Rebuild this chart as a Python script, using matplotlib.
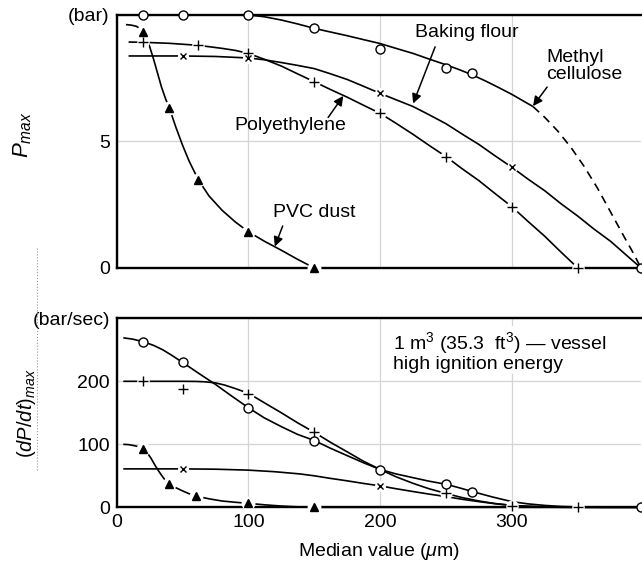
import matplotlib
matplotlib.use('Agg')
import matplotlib.pyplot as plt
from matplotlib.lines import Line2D

plt.rcParams['font.family'] = ['Liberation Sans', 'DejaVu Sans']
plt.rcParams['mathtext.fontset'] = 'custom'
plt.rcParams['mathtext.rm'] = 'Liberation Sans'
plt.rcParams['mathtext.it'] = 'Liberation Sans:italic'
plt.rcParams['mathtext.bf'] = 'Liberation Sans:bold'

# ---- top panel: P_max (bar) ----
mc_top_x = [0, 50, 100, 112, 125, 137, 150, 162, 175, 187, 200, 212, 225, 237, 250, 260, 270, 280, 290, 300, 308, 316]
mc_top_y = [10, 10, 10, 9.93, 9.8, 9.65, 9.47, 9.33, 9.18, 9.03, 8.87, 8.68, 8.48, 8.26, 8.03, 7.84, 7.63, 7.39, 7.13, 6.86, 6.62, 6.38]
mc_top_dash_x = [316, 325, 335, 345, 355, 365, 375, 385, 392, 398]
mc_top_dash_y = [6.38, 5.95, 5.4, 4.75, 4.0, 3.15, 2.2, 1.25, 0.6, 0]
mc_top_mx = [20, 50, 100, 150, 200, 250, 270, 398]
mc_top_my = [10, 10, 10, 9.47, 8.64, 7.89, 7.72, 0]

pe_top_x = [9, 20, 40, 62, 80, 90, 100, 112, 125, 137, 150, 162, 175, 187, 200, 212, 225, 237, 250, 262, 275, 287, 300, 312, 325, 337, 350, 398]
pe_top_y = [8.93, 8.92, 8.88, 8.8, 8.68, 8.6, 8.48, 8.25, 7.98, 7.68, 7.36, 7.06, 6.75, 6.44, 6.11, 5.72, 5.28, 4.85, 4.4, 3.93, 3.45, 2.95, 2.42, 1.85, 1.25, 0.64, 0, 0]
pe_top_mx = [20, 62, 100, 150, 200, 250, 300, 350]
pe_top_my = [8.92, 8.8, 8.48, 7.36, 6.11, 4.4, 2.42, 0]

bf_top_x = [9, 50, 75, 100, 112, 125, 137, 150, 162, 175, 187, 200, 212, 225, 237, 250, 262, 275, 287, 300, 312, 325, 337, 350, 362, 375, 387, 398]
bf_top_y = [8.38, 8.38, 8.36, 8.3, 8.23, 8.12, 8.01, 7.88, 7.68, 7.45, 7.19, 6.9, 6.65, 6.38, 6.06, 5.7, 5.3, 4.88, 4.44, 3.98, 3.52, 3.05, 2.55, 2.05, 1.55, 1.05, 0.5, 0]
bf_top_mx = [50, 100, 200, 300]
bf_top_my = [8.38, 8.29, 6.92, 3.98]

pvc_top_x = [7, 11, 15, 18, 20, 22, 25, 28, 31, 34, 37, 40, 45, 50, 55, 62, 70, 80, 90, 100, 112, 125, 137, 150]
pvc_top_y = [9.62, 9.6, 9.55, 9.45, 9.34, 9.15, 8.75, 8.25, 7.7, 7.15, 6.7, 6.31, 5.55, 4.85, 4.22, 3.48, 2.85, 2.28, 1.82, 1.43, 1.06, 0.7, 0.35, 0]
pvc_top_mx = [20, 40, 62, 100, 150]
pvc_top_my = [9.34, 6.31, 3.48, 1.43, 0]

# ---- bottom panel: (dP/dt)_max (bar/sec) ----
mc_bot_x = [5, 12, 20, 28, 35, 42, 50, 62, 75, 87, 100, 112, 125, 137, 150, 162, 175, 187, 200, 212, 225, 237, 250, 260, 270, 285, 300, 312, 325, 337, 350, 370, 398]
mc_bot_y = [269, 267, 263, 257, 250, 241, 230, 213, 195, 177, 158, 142, 128, 116, 106, 94, 82, 71, 60, 53, 47, 41.5, 36.6, 31, 25, 16.5, 9, 5.5, 3, 1.4, 0.5, 0, 0]
mc_bot_mx = [20, 50, 100, 150, 200, 250, 270, 398]
mc_bot_my = [262.7, 230, 157.6, 105.6, 59.4, 36.6, 24.8, 0]

pe_bot_x = [5, 20, 50, 60, 67, 75, 82, 90, 100, 112, 125, 137, 150, 162, 175, 187, 200, 212, 225, 237, 250, 262, 275, 287, 300, 312, 325, 337, 350, 398]
pe_bot_y = [200, 200, 200, 199.8, 199.2, 197.5, 194, 188.5, 181, 166, 150, 134.5, 119, 103.5, 88, 73.5, 60, 48.5, 38, 29.5, 22, 15.5, 10, 6, 3, 1.5, 0.5, 0.1, 0, 0]
pe_bot_mx = [20, 50, 100, 150, 250, 300, 350]
pe_bot_my = [201, 188, 180.4, 119.4, 22.3, 2.5, 0]

bf_bot_x = [5, 50, 75, 100, 120, 139, 150, 162, 175, 187, 200, 212, 225, 237, 250, 262, 275, 287, 300, 312, 325, 337, 350, 398]
bf_bot_y = [61, 61, 60.5, 59, 56.5, 53, 50, 46, 42, 38, 34, 29.5, 25, 21, 17, 12.8, 9, 5.8, 3, 1.6, 0.8, 0.2, 0, 0]
bf_bot_mx = [50, 200]
bf_bot_my = [61, 34]

pvc_bot_x = [5, 9, 13, 17, 20, 23, 26, 29, 32, 35, 38, 40, 45, 50, 55, 60, 70, 80, 90, 100, 112, 125, 137, 150, 398]
pvc_bot_y = [100, 99.5, 98, 96, 93, 87, 78, 67, 57, 48, 40, 37, 31, 26, 21.5, 18, 13.5, 10, 8, 6.3, 4, 2, 0.8, 0, 0]
pvc_bot_mx = [20, 40, 60, 100, 150]
pvc_bot_my = [92.8, 37, 18, 6.3, 0]

x_ticks = [0, 100, 200, 300]
top_yticks = [0, 5, 10]
top_ylabels = ['0', '5', '(bar)']
bot_yticks = [0, 100, 200, 300]
bot_ylabels = ['0', '100', '200', '(bar/sec)']

LW = 1.2


def curve(ax, x, y, **kw):
    ax.plot(x, y, color='black', lw=LW, zorder=2, clip_on=False, solid_capstyle='butt',
            solid_joinstyle='round', **kw)


def marks(ax, x, y, marker, ms, mew=1.0, gap=9, filled=False):
    if gap:
        ax.plot(x, y, 'o', ms=gap, color='white', mec='none', zorder=3, clip_on=False)
    if filled:
        ax.plot(x, y, marker, ms=ms, color='black', mec='black', zorder=4, clip_on=False)
    elif marker == 'o':
        ax.plot(x, y, 'o', ms=ms, mfc='white', mec='black', mew=mew, zorder=4, clip_on=False)
    else:
        ax.plot(x, y, marker, ms=ms, color='black', mew=mew, zorder=4, clip_on=False)


def style(ax):
    ax.set_xlim(0, 398)
    for s in ['left', 'bottom', 'top']:
        ax.spines[s].set_linewidth(1.7)
        ax.spines[s].set_zorder(1)
    ax.spines['right'].set_visible(False)
    ax.grid(True, color='#d4d4d4', lw=0.9, zorder=0)
    ax.set_axisbelow(True)
    ax.tick_params(length=0, labelsize=14, pad=5)


def arrow(ax, tip, tail):
    ax.annotate('', xy=tip, xytext=tail,
                arrowprops=dict(arrowstyle='-|>', color='black', lw=1.1, mutation_scale=14,
                                shrinkA=0, shrinkB=0))


fig = plt.figure(figsize=(6.42, 5.61), dpi=100)
ax1 = fig.add_axes([0.1818, 0.5223, 0.8167, 0.451])
ax2 = fig.add_axes([0.1818, 0.0957, 0.8167, 0.3369])

# top panel
style(ax1)
ax1.set_ylim(0, 10)
ax1.set_yticks(top_yticks)
ax1.set_yticklabels(top_ylabels)
ax1.set_xticks(x_ticks)
ax1.set_xticklabels([])

curve(ax1, mc_top_x, mc_top_y)
curve(ax1, mc_top_dash_x, mc_top_dash_y, dashes=(5, 3.5))
curve(ax1, pe_top_x, pe_top_y)
curve(ax1, bf_top_x, bf_top_y)
curve(ax1, pvc_top_x, pvc_top_y)
marks(ax1, pe_top_mx, pe_top_my, '+', 6.5)
marks(ax1, bf_top_mx, bf_top_my, 'x', 4.5, gap=8)
marks(ax1, pvc_top_mx, pvc_top_my, '^', 6, gap=10, filled=True)
marks(ax1, mc_top_mx, mc_top_my, 'o', 6.5, gap=0)

ax1.text(132, 5.65, 'Polyethylene', fontsize=14, ha='center', va='center')
arrow(ax1, (172, 6.8), (160.5, 5.95))
ax1.text(150, 2.21, 'PVC dust', fontsize=14, ha='center', va='center')
arrow(ax1, (120, 0.85), (126, 1.66))
ax1.text(266, 9.29, 'Baking flour', fontsize=14, ha='center', va='center')
arrow(ax1, (225, 6.5), (241.7, 8.74))
ax1.text(326, 7.97, 'Methyl\ncellulose', fontsize=14, ha='left', va='center', linespacing=1.0)
arrow(ax1, (316, 6.4), (326.7, 7.15))

# bottom panel
style(ax2)
ax2.set_ylim(0, 300)
ax2.set_yticks(bot_yticks)
ax2.set_yticklabels(bot_ylabels)
ax2.set_xticks(x_ticks)

curve(ax2, mc_bot_x, mc_bot_y)
curve(ax2, pe_bot_x, pe_bot_y)
curve(ax2, bf_bot_x, bf_bot_y)
curve(ax2, pvc_bot_x, pvc_bot_y)
marks(ax2, pe_bot_mx, pe_bot_my, '+', 6.5)
marks(ax2, bf_bot_mx, bf_bot_my, 'x', 4.5, gap=8)
marks(ax2, pvc_bot_mx, pvc_bot_my, '^', 6, gap=10, filled=True)
marks(ax2, mc_bot_mx, mc_bot_my, 'o', 6.5, gap=0)

ax2.text(210, 247, '1 m$^3$ (35.3  ft$^3$) \u2014 vessel\nhigh ignition energy', fontsize=14,
         ha='left', va='center', linespacing=0.95,
         bbox=dict(facecolor='white', edgecolor='none', pad=1))
ax2.set_xlabel('Median value ($\\mu$m)', fontsize=14, labelpad=7)

fig.text(23 / 642, 1 - 135 / 561, '$P_{max}$', fontsize=16, rotation=90, ha='center', va='center')
fig.text(27 / 642, 1 - 413 / 561, '$(dP/dt)_{max}$', fontsize=14.5, rotation=90, ha='center', va='center')

# faint dotted scan mark at the left edge
fig.add_artist(Line2D([37 / 642, 37 / 642], [1 - 248 / 561, 1 - 470 / 561],
                      transform=fig.transFigure, color='#999999', lw=0.8, ls=':'))

fig.savefig('out.png', dpi=100)
